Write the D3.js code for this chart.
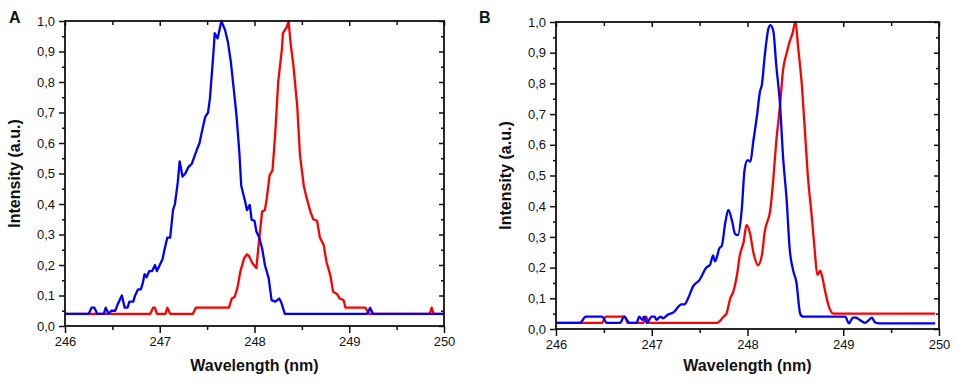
<!DOCTYPE html>
<html>
<head>
<meta charset="utf-8">
<script src="https://cdn.jsdelivr.net/npm/d3@7"></script>
<style>
  body { margin: 0; background: #fff; }
  text { font-family: "Liberation Sans", Arial, sans-serif; }
</style>
</head>
<body>
<div id="chart"></div>
<script>
// Spectra: [wavelength (nm), intensity (a.u.)]
const panelABlue = [
  [246.0, 0.04], [246.25, 0.04], [246.28, 0.06], [246.31, 0.06], [246.34, 0.04], [246.41, 0.04],
  [246.43, 0.06], [246.46, 0.04], [246.49, 0.05], [246.53, 0.05], [246.56, 0.074], [246.6, 0.10],
  [246.63, 0.06], [246.66, 0.06], [246.68, 0.08], [246.72, 0.08], [246.74, 0.10], [246.77, 0.12],
  [246.8, 0.12], [246.82, 0.14], [246.84, 0.17], [246.86, 0.16], [246.89, 0.18], [246.92, 0.18],
  [246.95, 0.20], [246.97, 0.18], [247.0, 0.20], [247.03, 0.22], [247.05, 0.25], [247.08, 0.29],
  [247.11, 0.29], [247.14, 0.38], [247.16, 0.40], [247.19, 0.47], [247.21, 0.54], [247.24, 0.49],
  [247.27, 0.50], [247.30, 0.52], [247.34, 0.533], [247.39, 0.577], [247.42, 0.60], [247.44, 0.63],
  [247.48, 0.686], [247.51, 0.70], [247.53, 0.747], [247.57, 0.91], [247.58, 0.96], [247.61, 0.943],
  [247.63, 0.97], [247.65, 1.0], [247.69, 0.97], [247.72, 0.93], [247.75, 0.867], [247.78, 0.78],
  [247.81, 0.69], [247.84, 0.57], [247.86, 0.46], [247.90, 0.41], [247.92, 0.38], [247.95, 0.397],
  [247.97, 0.348], [248.0, 0.345], [248.02, 0.31], [248.05, 0.29], [248.08, 0.255], [248.11, 0.20],
  [248.15, 0.156], [248.18, 0.085], [248.22, 0.08], [248.26, 0.09], [248.28, 0.08], [248.32, 0.04],
  [249.19, 0.04], [249.22, 0.06], [249.25, 0.04], [250.0, 0.04]
];
const panelARed = [
  [246.0, 0.04], [246.9, 0.04], [246.93, 0.06], [246.95, 0.06], [246.97, 0.04], [247.06, 0.04],
  [247.08, 0.06], [247.11, 0.04], [247.35, 0.04], [247.38, 0.06], [247.73, 0.06], [247.76, 0.09],
  [247.79, 0.095], [247.82, 0.125], [247.85, 0.178], [247.89, 0.222], [247.92, 0.235], [247.94, 0.23],
  [247.98, 0.205], [248.02, 0.19], [248.04, 0.255], [248.08, 0.375], [248.11, 0.38], [248.13, 0.42],
  [248.16, 0.495], [248.19, 0.51], [248.22, 0.637], [248.25, 0.80], [248.29, 0.91], [248.30, 0.96],
  [248.34, 0.98], [248.36, 1.0], [248.38, 0.93], [248.41, 0.856], [248.45, 0.725], [248.48, 0.56],
  [248.52, 0.46], [248.55, 0.42], [248.59, 0.375], [248.62, 0.35], [248.66, 0.345], [248.69, 0.29],
  [248.73, 0.266], [248.76, 0.21], [248.80, 0.167], [248.83, 0.112], [248.87, 0.105], [248.90, 0.09],
  [248.94, 0.085], [248.96, 0.06], [249.17, 0.06], [249.21, 0.04], [249.85, 0.04], [249.87, 0.06],
  [249.89, 0.04], [250.0, 0.04]
];
const panelBBlue = [
  [246.0, 0.02], [246.25, 0.02], [246.31, 0.04], [246.48, 0.04], [246.53, 0.02], [246.67, 0.02],
  [246.71, 0.04], [246.77, 0.02], [246.84, 0.02], [246.87, 0.04], [246.9, 0.03], [246.92, 0.04],
  [246.95, 0.02], [247.0, 0.04], [247.03, 0.04], [247.05, 0.03], [247.09, 0.04], [247.12, 0.035],
  [247.16, 0.045], [247.23, 0.055], [247.31, 0.08], [247.34, 0.08], [247.38, 0.10], [247.43, 0.138],
  [247.5, 0.16], [247.57, 0.20], [247.61, 0.21], [247.64, 0.24], [247.66, 0.22], [247.71, 0.265],
  [247.73, 0.27], [247.77, 0.35], [247.80, 0.388], [247.84, 0.35], [247.87, 0.31], [247.90, 0.306],
  [247.94, 0.39], [247.97, 0.52], [248.0, 0.55], [248.03, 0.545], [248.06, 0.61], [248.10, 0.697],
  [248.13, 0.773], [248.15, 0.795], [248.18, 0.89], [248.22, 0.98], [248.24, 0.99], [248.27, 0.97],
  [248.30, 0.86], [248.34, 0.73], [248.37, 0.567], [248.41, 0.415], [248.44, 0.263], [248.48, 0.187],
  [248.51, 0.154], [248.55, 0.05], [248.58, 0.04], [249.02, 0.04], [249.06, 0.018], [249.10, 0.037],
  [249.13, 0.037], [249.17, 0.03], [249.23, 0.02], [249.27, 0.03], [249.30, 0.037], [249.33, 0.022],
  [249.38, 0.018], [249.96, 0.018]
];
const panelBRed = [
  [246.0, 0.02], [246.48, 0.02], [246.52, 0.04], [246.72, 0.04], [246.75, 0.02], [246.91, 0.02],
  [246.94, 0.04], [246.97, 0.02], [247.68, 0.02], [247.75, 0.04], [247.78, 0.05], [247.82, 0.10],
  [247.85, 0.12], [247.89, 0.176], [247.92, 0.24], [247.96, 0.284], [247.99, 0.339], [248.03, 0.306],
  [248.06, 0.252], [248.11, 0.208], [248.15, 0.24], [248.18, 0.317], [248.24, 0.393], [248.27, 0.49],
  [248.30, 0.61], [248.34, 0.73], [248.37, 0.84], [248.41, 0.90], [248.44, 0.936], [248.47, 0.963],
  [248.50, 1.0], [248.53, 0.914], [248.57, 0.784], [248.60, 0.643], [248.63, 0.50], [248.67, 0.37],
  [248.70, 0.263], [248.73, 0.176], [248.76, 0.19], [248.78, 0.17], [248.82, 0.11], [248.85, 0.073],
  [248.90, 0.05], [249.96, 0.05]
];

// Axis ticks
const xMajor = [246, 247, 248, 249, 250];
const xMinor = [246.5, 247.5, 248.5, 249.5];
const yMajor = [0, 0.1, 0.2, 0.3, 0.4, 0.5, 0.6, 0.7, 0.8, 0.9, 1.0];
const yMinor = [0.05, 0.15, 0.25, 0.35, 0.45, 0.55, 0.65, 0.75, 0.85, 0.95];

const width = 957;
const height = 384;
const blue = "#0000ff";
const red = "#ff0000";

const svg = d3.select("#chart")
  .append("svg")
  .attr("width", width)
  .attr("height", height);

const commaFormat = (d) => d3.format(".1f")(d).replace(".", ",");

function drawPanel(cfg) {
  const x = d3.scaleLinear().domain([246, 250]).range([cfg.left, cfg.right]);
  const y = d3.scaleLinear().domain([0, 1]).range([cfg.bottom, cfg.top]);
  const g = svg.append("g");

  // left axis (outward ticks with labels)
  const left = g.append("g").attr("transform", `translate(${cfg.left},0)`);
  left.call(d3.axisLeft(y).tickValues(yMajor).tickSize(6).tickPadding(4).tickFormat(commaFormat));
  left.append("g").call(d3.axisLeft(y).tickValues(yMinor).tickSize(3).tickFormat(""));

  // bottom axis
  const bottom = g.append("g").attr("transform", `translate(0,${cfg.bottom})`);
  bottom.call(d3.axisBottom(x).tickValues(xMajor).tickSize(7).tickPadding(4).tickFormat(d3.format("d")));
  bottom.append("g").call(d3.axisBottom(x).tickValues(xMinor).tickSize(4).tickFormat(""));

  // right and top mirror ticks pointing inward
  const right = g.append("g").attr("transform", `translate(${cfg.right},0)`);
  right.call(d3.axisRight(y).tickValues(yMajor).tickSize(-5).tickFormat(""));
  right.append("g").call(d3.axisRight(y).tickValues(yMinor).tickSize(-3).tickFormat(""));
  const top = g.append("g").attr("transform", `translate(0,${cfg.top})`);
  top.call(d3.axisTop(x).tickValues(xMajor).tickSize(-5).tickFormat(""));
  top.append("g").call(d3.axisTop(x).tickValues(xMinor).tickSize(-4).tickFormat(""));

  g.selectAll(".domain").remove();
  g.selectAll(".tick line").attr("stroke", "#111").attr("stroke-width", 1.5);
  g.selectAll(".tick text").attr("font-size", 13).attr("fill", "#111")
    .attr("font-family", "'Liberation Sans', Arial, sans-serif");

  // curves (red first, blue over it)
  const line = d3.line()
    .x((d) => x(d[0]))
    .y((d) => y(d[1]))
    .curve(cfg.curve);
  [[cfg.red, red], [cfg.blue, blue]].forEach(([data, color]) => {
    g.append("path")
      .datum(data)
      .attr("fill", "none")
      .attr("stroke", color)
      .attr("stroke-width", 2.3)
      .attr("stroke-linejoin", "round")
      .attr("d", line);
  });

  // frame
  g.append("rect")
    .attr("x", cfg.left)
    .attr("y", cfg.top)
    .attr("width", cfg.right - cfg.left)
    .attr("height", cfg.bottom - cfg.top)
    .attr("fill", "none")
    .attr("stroke", "#111")
    .attr("stroke-width", 1.8);

  // titles
  g.append("text")
    .attr("transform", `translate(${cfg.left - 45},${(cfg.top + cfg.bottom) / 2}) rotate(-90)`)
    .attr("text-anchor", "middle")
    .attr("font-size", 16)
    .attr("font-weight", "bold")
    .attr("fill", "#111")
    .text("Intensity (a.u.)");

  g.append("text")
    .attr("x", (cfg.left + cfg.right) / 2)
    .attr("y", 371)
    .attr("text-anchor", "middle")
    .attr("font-size", 16)
    .attr("font-weight", "bold")
    .attr("fill", "#111")
    .text("Wavelength (nm)");

  g.append("text")
    .attr("x", cfg.labelX)
    .attr("y", 23)
    .attr("font-size", 16)
    .attr("font-weight", "bold")
    .attr("fill", "#111")
    .text(cfg.label);
}

drawPanel({
  label: "A", labelX: 9,
  left: 65, right: 444, top: 21, bottom: 326,
  blue: panelABlue, red: panelARed, curve: d3.curveLinear
});

drawPanel({
  label: "B", labelX: 479,
  left: 556, right: 939, top: 22, bottom: 329,
  blue: panelBBlue, red: panelBRed, curve: d3.curveMonotoneX
});
</script>
</body>
</html>
